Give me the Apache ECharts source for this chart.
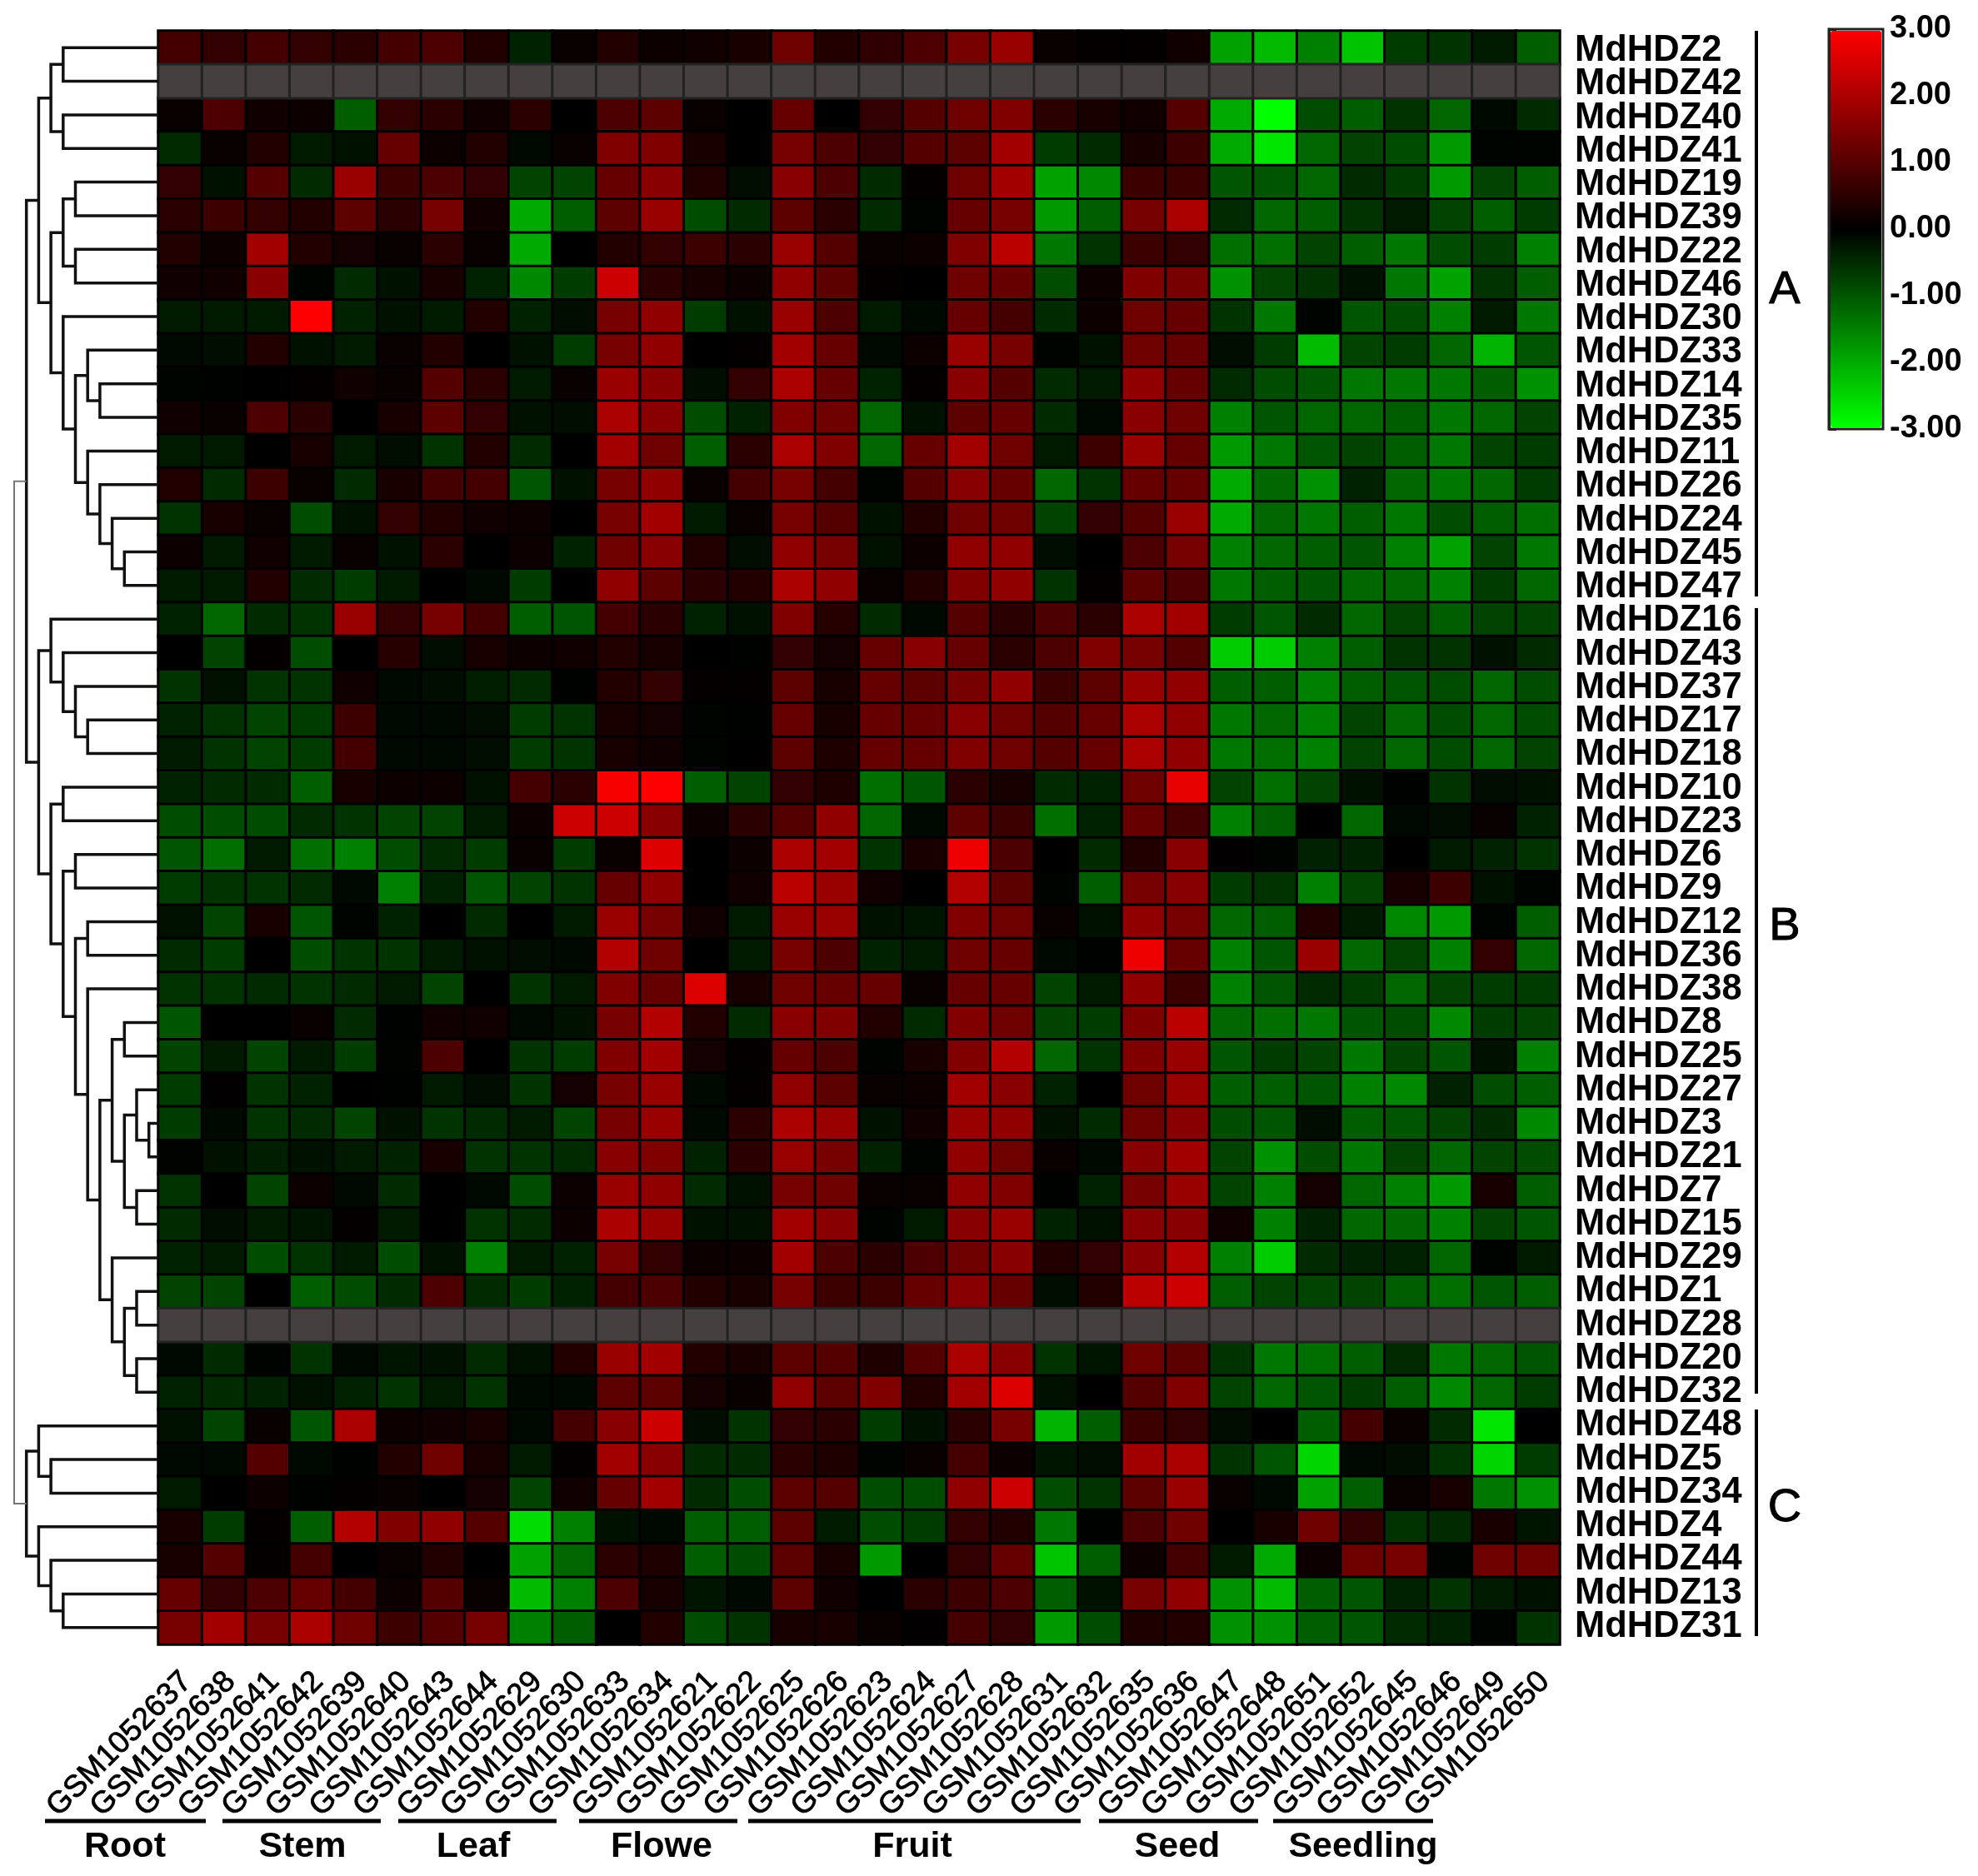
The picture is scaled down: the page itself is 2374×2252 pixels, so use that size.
<!DOCTYPE html>
<html lang="en">
<head>
  <meta charset="UTF-8" />
  <title>MdHDZ expression heatmap</title>
  <script src="https://cdn.jsdelivr.net/npm/echarts@6/dist/echarts.min.js"></script>
  <style>
    html, body { margin: 0; padding: 0; background: #fff; }
    #chart { width: 2374px; height: 2252px; }
  </style>
</head>
<body>
  <div id="chart"></div>
  <script>
    const genes = ['MdHDZ2','MdHDZ42','MdHDZ40','MdHDZ41','MdHDZ19','MdHDZ39','MdHDZ22','MdHDZ46','MdHDZ30','MdHDZ33','MdHDZ14','MdHDZ35','MdHDZ11','MdHDZ26','MdHDZ24','MdHDZ45','MdHDZ47','MdHDZ16','MdHDZ43','MdHDZ37','MdHDZ17','MdHDZ18','MdHDZ10','MdHDZ23','MdHDZ6','MdHDZ9','MdHDZ12','MdHDZ36','MdHDZ38','MdHDZ8','MdHDZ25','MdHDZ27','MdHDZ3','MdHDZ21','MdHDZ7','MdHDZ15','MdHDZ29','MdHDZ1','MdHDZ28','MdHDZ20','MdHDZ32','MdHDZ48','MdHDZ5','MdHDZ34','MdHDZ4','MdHDZ44','MdHDZ13','MdHDZ31'];
    const samples = ['GSM1052637','GSM1052638','GSM1052641','GSM1052642','GSM1052639','GSM1052640','GSM1052643','GSM1052644','GSM1052629','GSM1052630','GSM1052633','GSM1052634','GSM1052621','GSM1052622','GSM1052625','GSM1052626','GSM1052623','GSM1052624','GSM1052627','GSM1052628','GSM1052631','GSM1052632','GSM1052635','GSM1052636','GSM1052647','GSM1052648','GSM1052651','GSM1052652','GSM1052645','GSM1052646','GSM1052649','GSM1052650'];
    const colorTicks = [-3, 3, 1];

    // rows with no data are drawn grey
    const noData = ['MdHDZ42', 'MdHDZ28'];

    const expr = [
      [.8,.6,.8,.6,.5,.8,.9,.4,-.4,.1,.4,.15,.2,.3,1.3,.4,.55,.9,1.4,1.8,.1,.05,.05,.2,-1.9,-2.2,-1.5,-2.3,-.7,-.6,-.3,-1.1],
      null,
      [.1,.9,.2,.15,-1.1,.6,.5,.2,.5,0,.9,1.1,.1,0,1.2,0,.6,1,1.3,1.5,.5,.3,.2,1,-2,-3,-.9,-1.1,-.6,-1.2,-.1,-.5],
      [-.5,.1,.4,-.3,-.2,1.2,.15,.4,-.1,.1,1.5,1.5,.3,0,1.4,.9,.6,1,1.1,1.9,-.7,-.5,.3,.7,-2,-2.7,-1.2,-.8,-.9,-1.8,-.05,-.05],
      [.6,-.2,1,-.5,1.8,.7,.9,.6,-.8,-.8,1.2,1.6,.4,-.15,1.6,.9,-.5,.05,1.3,1.9,-1.9,-1.6,.7,.7,-1,-1,-1.2,-.5,-.7,-1.8,-.8,-1.1],
      [.5,.7,.6,.4,1.1,.5,1.4,.2,-2,-1.1,1.1,1.8,-.9,-.5,1.1,.5,-.5,-.05,1.2,1.4,-1.8,-1.1,1.4,2,-.5,-1.2,-1.1,-.6,-.3,-.8,-1.1,-.7],
      [.4,.15,1.9,.4,.25,.1,.5,.1,-2,0,.4,.6,.7,.5,1.8,1,.1,.15,1.5,2.2,-1.4,-.6,.7,.6,-1.3,-1.3,-.8,-1.1,-1.4,-.9,-.7,-1.5],
      [.2,.2,1.6,-.05,-.5,-.2,.3,-.4,-1.6,-.7,2.4,.5,.3,.15,1.7,1.1,.05,0,1.3,1.2,-.9,.15,1.5,1.4,-1.7,-.8,-.6,-.2,-1.4,-1.9,-.6,-1.1],
      [-.3,-.3,-.3,3,-.4,-.2,-.3,.4,-.4,-.15,1.4,1.7,-.7,-.2,1.8,.9,-.3,-.1,1.2,.8,-.5,.15,1.3,1.2,-.6,-1.4,-.05,-1,-.9,-1.5,-.3,-1.4],
      [-.1,-.15,.4,-.2,-.3,.1,.4,0,-.2,-.7,1.4,1.7,0,.05,1.9,1.2,-.1,.15,1.8,1.4,-.05,-.2,1.3,1.2,-.15,-.7,-2.2,-.8,-.7,-1.2,-2.1,-1],
      [-.05,-.02,0,.05,.2,.1,1,.5,-.3,.1,1.8,1.6,-.15,.6,2,1.2,-.4,.05,1.6,1,-.5,-.3,1.7,1.2,-.5,-.9,-1,-1.4,-1.4,-1.4,-1.1,-1.7],
      [.2,.1,.9,.5,0,.3,1.1,.6,-.2,-.15,2,1.6,-.9,-.4,1.5,1.3,-1.2,-.2,1.1,1.2,-.5,-.1,1.6,1.3,-1.5,-1,-1.2,-1.2,-1.1,-1.4,-1.2,-.8],
      [-.3,-.3,0,.3,-.3,-.15,-.6,.4,-.5,0,1.9,1.3,-1.1,.5,2,1.5,-1.2,1.2,1.9,1.3,-.3,.7,1.8,1.2,-1.8,-1.4,-1,-.8,-1.1,-1.4,-.8,-.7],
      [.4,-.5,.7,.1,-.5,.3,.8,.8,-1,-.2,1.4,1.7,.1,.8,1.4,.8,-.05,1,1.6,1.2,-1.2,-.6,1.2,1.2,-2,-1.2,-1.7,-.4,-1.2,-1.4,-1.2,-.7],
      [-.6,.3,.1,-.9,-.2,.6,.4,.2,.15,0,1.4,1.9,-.3,.1,1.4,1,-.2,.4,1.3,1.3,-.8,.6,1,1.8,-2,-1.2,-1.4,-1.1,-1.4,-.9,-1.1,-1.3],
      [.15,-.3,.2,-.3,.1,-.2,.5,0,.15,-.4,1.3,1.6,.4,-.15,1.7,1.4,-.2,.15,1.7,1.7,-.15,0,.9,1.4,-1.5,-1.2,-1.1,-1,-1.5,-1.9,-.8,-1.4],
      [-.3,-.3,.4,-.5,-.7,-.3,0,-.1,-.7,0,1.7,1.1,.5,.4,2,1.7,.1,.4,1.5,1.7,-.6,.05,1.1,.9,-1.4,-1.1,-1,-1.2,-1.2,-1.5,-.7,-1.2],
      [-.4,-1.2,-.5,-.6,1.8,.6,1.4,.8,-1.1,-1,.8,.5,-.4,-.2,1.5,.45,-.5,-.1,1,.5,.9,.5,2,1.9,-.7,-1,-.5,-1.2,-.8,-1.1,-.8,-.8],
      [0,-.8,.05,-.9,0,.45,-.15,.3,.15,.2,.4,.3,0,-.02,.6,.25,1.2,1.6,1.2,.5,.9,1.5,1.4,1,-2.4,-2.4,-1.5,-1.1,-.6,-.6,-.2,-.5],
      [-.6,-.2,-.6,-.6,.2,-.1,-.15,-.35,-.5,-.02,.4,.6,.05,.05,1.1,.3,1.2,1.1,1.4,1.7,.7,1.1,1.8,1.7,-1.1,-1.1,-1.5,-1.1,-1,-.9,-1.2,-.9],
      [-.4,-.6,-.8,-.7,.7,-.1,-.1,-.15,-.7,-.6,.3,.25,-.05,-.02,1.2,.3,1.2,1.2,1.6,1.3,1,1.2,2,1.7,-1.4,-1.2,-1.5,-.8,-1.2,-.9,-1.2,-.9],
      [-.3,-.6,-.8,-.7,.8,-.1,-.1,-.15,-.7,-.6,.3,.2,-.05,0,1.1,.35,1.2,1.2,1.5,1.3,1,1.2,2,1.7,-1.4,-1.3,-1.5,-.8,-1.2,-.9,-1.2,-.8],
      [-.4,-.5,-.5,-1.1,.3,.15,.15,-.2,.8,.5,2.9,3,-1.1,-.8,.6,.35,-1.3,-1,.5,.3,-.5,-.4,1.3,2.7,-.8,-1.3,-.8,-.2,-.02,-.6,-.15,-.2],
      [-.9,-.9,-.9,-.5,-.6,-.8,-.8,-.3,.15,2.4,2.4,1.6,.15,.5,1,1.7,-1.2,-.1,1.1,.7,-1.3,-.4,1.2,.8,-1.5,-1.1,0,-1.2,-.1,-.15,.1,-.4],
      [-1,-1.3,-.3,-1.3,-1.5,-.9,-.5,-.7,.1,-.7,.1,2.6,0,.15,2,1.9,-.6,.3,2.8,.9,0,-.5,.4,1.6,.02,-.05,-.4,-.4,0,-.3,-.4,-.6],
      [-.7,-.6,-.6,-.5,-.1,-1.5,-.4,-1,-.8,-.6,1.2,1.7,0,.2,2.2,1.8,.2,0,2.1,1.1,-.05,-1.1,1.4,1.6,-.7,-.6,-1.5,-.8,.3,.7,-.2,-.05],
      [-.2,-.8,.3,-1,-.05,-.4,0,-.5,0,-.3,1.8,1.4,.2,-.3,1.8,1.8,-.2,-.25,1.5,1.3,.1,-.2,1.7,1.4,-1.2,-1.1,.4,-.3,-1.6,-1.8,-.05,-1.1],
      [-.5,-.7,0,-.9,-.6,-.6,-.3,-.2,-.15,-.1,2.1,1.3,0,-.3,1.4,.9,-.4,-.3,1.3,1.2,-.1,-.02,2.8,1.2,-1.5,-1,1.8,-1.2,-.8,-1.5,.6,-1.2],
      [-.6,-.6,-.5,-.6,-.5,-.3,-.8,0,-.6,-.3,1.5,1.2,2.6,.3,1.3,1.2,1.2,.1,1.2,1.2,-.8,-.3,1.7,.7,-1.5,-1,-.5,-.7,-1.2,-.8,-.7,-.7],
      [-1,0,0,.1,-.5,-.02,.2,.2,-.1,-.2,1.4,2.1,.4,-.5,1.6,1.5,.4,-.5,1.5,1.3,-.8,-.7,1.5,2.2,-1.2,-1.3,-1.4,-1,-.9,-1.6,-.7,-.8],
      [-.8,-.3,-.8,-.3,-.7,-.03,.9,0,-.6,-.7,1.5,1.9,.25,.05,1.2,.9,-.05,.3,1.5,2.1,-1.2,-.6,1.5,1.8,-1,-.7,-.8,-1.4,-.8,-1,-.2,-1.5],
      [-.7,.02,-.6,-.4,0,-.02,-.3,-.15,-.6,.25,1.4,1.8,-.1,.05,1.7,1.1,.1,.15,1.9,1.6,-.4,0,1.3,1.8,-1.1,-1.1,-1,-1.5,-1.6,-.4,-.9,-1.1],
      [-.7,-.1,-.6,-.5,-.8,-.2,-.6,-.5,-.3,-.8,1.4,1.8,-.1,.5,2,1.8,-.2,.2,1.8,1.7,-.2,-.5,1.3,1.6,-.9,-1,-.15,-1.1,-1,-.8,-.5,-1.6],
      [-.03,-.2,-.35,-.2,-.3,-.4,.3,-.6,-.6,-.5,1.6,1.5,-.4,.5,1.8,1.4,-.4,-.05,1.7,1.3,.1,-.1,1.6,1.9,-.8,-1.7,-.9,-1.4,-.8,-1.2,-.8,-.9],
      [-.6,0,-.8,.15,-.1,-.5,0,-.1,-.9,.15,1.8,1.7,-.5,-.2,1.4,1.3,.1,.1,1.7,1.5,-.02,-.4,1.4,1.8,-.8,-1.5,.25,-1.2,-1.5,-1.8,.3,-1.1],
      [-.5,-.15,-.3,-.25,.05,-.3,0,-.6,-.5,.15,2,1.8,-.2,-.2,1.9,1.6,-.05,-.3,1.6,1.8,-.4,-.2,1.6,1.6,.2,-1.5,-.4,-1.2,-1.2,-1.5,-.8,-1],
      [-.4,-.3,-.9,-.6,-.3,-.9,-.2,-1.5,-.3,-.4,1.4,.6,.15,.15,1.9,.9,.5,.9,1.3,1.6,.4,.6,1.6,2.1,-1.5,-2.4,-.5,-.4,-.4,-1.2,-.05,-.3],
      [-.8,-.8,0,-1.1,-.9,-.5,.9,-.5,-.7,-.4,.8,.9,.4,.3,1.4,.7,.7,1.2,1.6,1.2,-.15,.4,2.2,2.4,-1.1,-.8,-.8,-.8,-1.1,-1.3,-1,-1.1],
      null,
      [-.1,-.5,-.05,-.6,-.1,-.25,-.2,-.5,-.2,.4,1.8,1.9,.4,.3,1.1,1,.35,1,2,1.6,-.6,-.25,1.3,1.1,-.6,-1.4,-1.3,-1.1,-.5,-1.4,-1.2,-1],
      [-.4,-.5,-.4,-.2,-.4,-.6,-.3,-.6,-.1,-.1,1.1,1.1,.25,.1,1.7,1.1,1.5,.4,1.9,2.6,-.2,0,1,1.5,-.8,-1.2,-1,-.7,-1.1,-1.6,-1.2,-.7],
      [-.2,-.8,.1,-1,2,.15,.2,.3,-.1,.8,1.6,2.4,-.15,-.6,.6,.5,-.7,-.2,.5,1.4,-2.1,-1.1,.7,.6,-.15,0,-1.1,.8,.1,-.5,-2.7,0],
      [-.1,-.1,1,-.1,-.02,.4,1.3,.3,-.3,.05,1.9,1.6,-.5,-.5,.5,.35,-.05,.1,.8,.15,-.25,-.15,1.9,2,-.6,-1,-2.5,-.1,-.15,-.6,-2.5,-.7],
      [-.3,0,.15,-.02,.05,.1,0,.25,-.8,.2,1.2,1.9,-.5,-.9,1.1,1,-.9,-.9,1.7,2.4,-.9,-.6,1.1,1.8,.1,-.1,-1.9,-1.1,.1,.3,-1.4,-1.7],
      [.3,-.7,.05,-1.1,2.1,1.5,1.7,1,-2.6,-1.5,-.2,-.1,-1.1,-1.1,1.1,-.3,-.9,-.7,.6,.4,-1.4,-.02,.9,1.3,0,.3,1.3,.6,-.6,-.5,.3,-.25],
      [.3,1,.05,.8,0,.1,.4,0,-1.9,-1.2,.5,.35,-1.1,-.9,1.1,.3,-1.8,0,.6,1.2,-2.3,-1.1,.15,.8,-.3,-2,.15,1.3,1.4,-.05,1.3,1.3],
      [1.2,.6,.9,1.2,.8,.15,1,.1,-2.2,-1.5,.9,.3,-.25,-.1,1.1,.2,0,.5,.7,.9,-1.1,-.2,1.4,1.7,-1.7,-2.2,-1.1,-1,-.4,-.6,-.3,-.2],
      [1.4,1.9,1.4,2,1.3,.7,1,1.4,-1.5,-1.1,0,.4,-.9,-.6,.3,.3,.1,.02,.8,.6,-1.8,-.9,.35,.4,-1.7,-1.7,-1.1,-1,-.5,-.4,-.05,-.6]
    ];

    // row clustering, leaves are row indexes
    const clusterA = [[[[0,1],[2,3]],[[[4,5],[6,7]],[8,[[9,[10,11]],[12,[13,[14,[15,16]]]]]]]],
      [[17,[18,[19,[20,21]]]],[[22,23],[[24,25],[[26,27],[28,[[[29,30],[[31,[32,33]],[34,35]]],[36,[[37,38],[39,40]]]]]]]]]];
    const clusterB = [[41,[42,43]],[44,[45,[46,47]]]];
    const tree = [clusterA, clusterB];

    const heatLeft = 190, heatRight = 1872, heatTop = 37, heatBottom = 1974;
    const treeLeft = 17, levelStep = 14.7;
    const leafDepth = (heatLeft - treeLeft) / levelStep;
    const fontFamily = '"Liberation Sans", Arial, sans-serif';

    const heatData = [];
    const greyData = [];
    genes.forEach((g, r) => {
      samples.forEach((s, c) => {
        if (expr[r]) heatData.push([c, r, expr[r][c]]);
        else if (noData.includes(g)) greyData.push([c, r, 0]);
      });
    });

    // each merge: [node depth, top child row, top child depth, bottom child row, bottom child depth]
    const merges = [];
    function walk(node, depth) {
      if (typeof node === 'number') return { y: node, d: leafDepth };
      const a = walk(node[0], depth + 1);
      const b = walk(node[1], depth + 1);
      merges.push([depth, a.y, a.d, b.y, b.d]);
      return { y: (a.y + b.y) / 2, d: depth };
    }
    walk(tree, 0);

    const myChart = echarts.init(document.getElementById('chart'));

    // side brackets and tissue groups are plain annotations
    const brackets = [
      { y1: 37, y2: 716, label: 'A', cy: 349 },
      { y1: 730, y2: 1673, label: 'B', cy: 1113 },
      { y1: 1692, y2: 1964, label: 'C', cy: 1811 }
    ];
    const groups = [
      { name: 'Root', x1: 54, x2: 247, cx: 150 },
      { name: 'Stem', x1: 267, x2: 457, cx: 363 },
      { name: 'Leaf', x1: 478, x2: 668, cx: 568 },
      { name: 'Flowe', x1: 695, x2: 885, cx: 794 },
      { name: 'Fruit', x1: 898, x2: 1297, cx: 1095 },
      { name: 'Seed', x1: 1319, x2: 1510, cx: 1413 },
      { name: 'Seedling', x1: 1528, x2: 1720, cx: 1636 }
    ];
    const graphics = [];
    brackets.forEach(b => {
      graphics.push({ type: 'line', shape: { x1: 2108, y1: b.y1, x2: 2108, y2: b.y2 }, style: { stroke: '#000', lineWidth: 4 } });
      graphics.push({ type: 'text', x: 2142, y: b.cy, style: { text: b.label, font: '56px ' + fontFamily, fill: '#000', stroke: '#000', lineWidth: 1, textAlign: 'center', textVerticalAlign: 'middle' } });
    });
    groups.forEach(g => {
      graphics.push({ type: 'line', shape: { x1: g.x1, y1: 2186, x2: g.x2, y2: 2186 }, style: { stroke: '#000', lineWidth: 5 } });
      graphics.push({ type: 'text', x: g.cx, y: 2217, style: { text: g.name, font: 'bold 43px ' + fontFamily, fill: '#000', textAlign: 'center', textVerticalAlign: 'middle' } });
    });

    myChart.setOption({
      animation: false,
      backgroundColor: '#fff',
      grid: [
        { left: heatLeft, top: heatTop, width: heatRight - heatLeft, height: heatBottom - heatTop, show: true, backgroundColor: '#000', borderColor: '#444', borderWidth: 2 },
        { left: treeLeft, top: heatTop, width: heatLeft - treeLeft, height: heatBottom - heatTop },
        { left: 2195, top: 35, width: 65, height: 480, show: true, borderColor: '#222', borderWidth: 3 },
        // the printed labels sit slightly off the cells, so they get their own grid
        { left: 198, top: 41, width: 1682, height: 1932 }
      ],
      xAxis: [
        {
          type: 'category', gridIndex: 0, data: samples,
          axisLine: { show: false }, axisTick: { show: false }, splitLine: { show: false }, axisLabel: { show: false }
        },
        { type: 'value', gridIndex: 1, min: 0, max: leafDepth, show: false },
        { type: 'value', gridIndex: 2, min: 0, max: 1, show: false },
        {
          type: 'category', gridIndex: 3, data: samples,
          axisLine: { show: false }, axisTick: { show: false }, splitLine: { show: false },
          axisLabel: { interval: 0, rotate: 45, margin: 40, color: '#000', fontFamily: fontFamily, fontSize: 37, textBorderColor: '#000', textBorderWidth: 0.8 }
        }
      ],
      yAxis: [
        {
          type: 'category', gridIndex: 0, data: genes, inverse: true,
          axisLine: { show: false }, axisTick: { show: false }, splitLine: { show: false }, axisLabel: { show: false }
        },
        { type: 'value', gridIndex: 1, min: -0.5, max: genes.length - 0.5, inverse: true, show: false },
        {
          type: 'value', gridIndex: 2, position: 'right', min: colorTicks[0], max: colorTicks[1], interval: colorTicks[2],
          splitLine: { show: false },
          axisLine: { show: true, lineStyle: { color: '#222', width: 3 } },
          axisTick: { show: true, length: 9, lineStyle: { color: '#222', width: 3 } },
          axisLabel: { margin: 8, color: '#000', fontFamily: fontFamily, fontWeight: 'bold', fontSize: 38, formatter: v => v.toFixed(2) }
        },
        {
          type: 'category', gridIndex: 3, data: genes, inverse: true, position: 'right',
          axisLine: { show: false }, axisTick: { show: false }, splitLine: { show: false },
          axisLabel: { interval: 0, margin: 10, color: '#000', fontFamily: fontFamily, fontWeight: 'bold', fontSize: 43.5 }
        }
      ],
      visualMap: {
        type: 'continuous', seriesIndex: 0, dimension: 2, min: -3, max: 3,
        calculable: false, showLabel: false, hoverLink: false, text: null, padding: 0,
        left: 2197, top: 37, itemWidth: 61, itemHeight: 476,
        inRange: { color: ['#00ff00', '#000000', '#ff0000'] }
      },
      series: [
        {
          type: 'heatmap', xAxisIndex: 0, yAxisIndex: 0, data: heatData, progressive: 0,
          itemStyle: { borderColor: '#000', borderWidth: 3 }, emphasis: { disabled: true }
        },
        {
          type: 'heatmap', xAxisIndex: 0, yAxisIndex: 0, data: greyData, progressive: 0,
          itemStyle: { color: '#453f3f', borderColor: '#222', borderWidth: 3 }, emphasis: { disabled: true }
        },
        {
          type: 'custom', xAxisIndex: 1, yAxisIndex: 1, data: merges, clip: false, silent: true,
          encode: { x: 0, y: 1 },
          renderItem: function (params, api) {
            const depth = api.value(0);
            const pts = [
              api.coord([api.value(2), api.value(1)]),
              api.coord([depth, api.value(1)]),
              api.coord([depth, api.value(3)]),
              api.coord([api.value(4), api.value(3)])
            ];
            return {
              type: 'polyline',
              shape: { points: pts },
              style: { fill: null, stroke: depth === 0 ? '#777' : '#111', lineWidth: depth === 0 ? 2 : 3.5 }
            };
          }
        }
      ],
      graphic: graphics
    });
  </script>
</body>
</html>
